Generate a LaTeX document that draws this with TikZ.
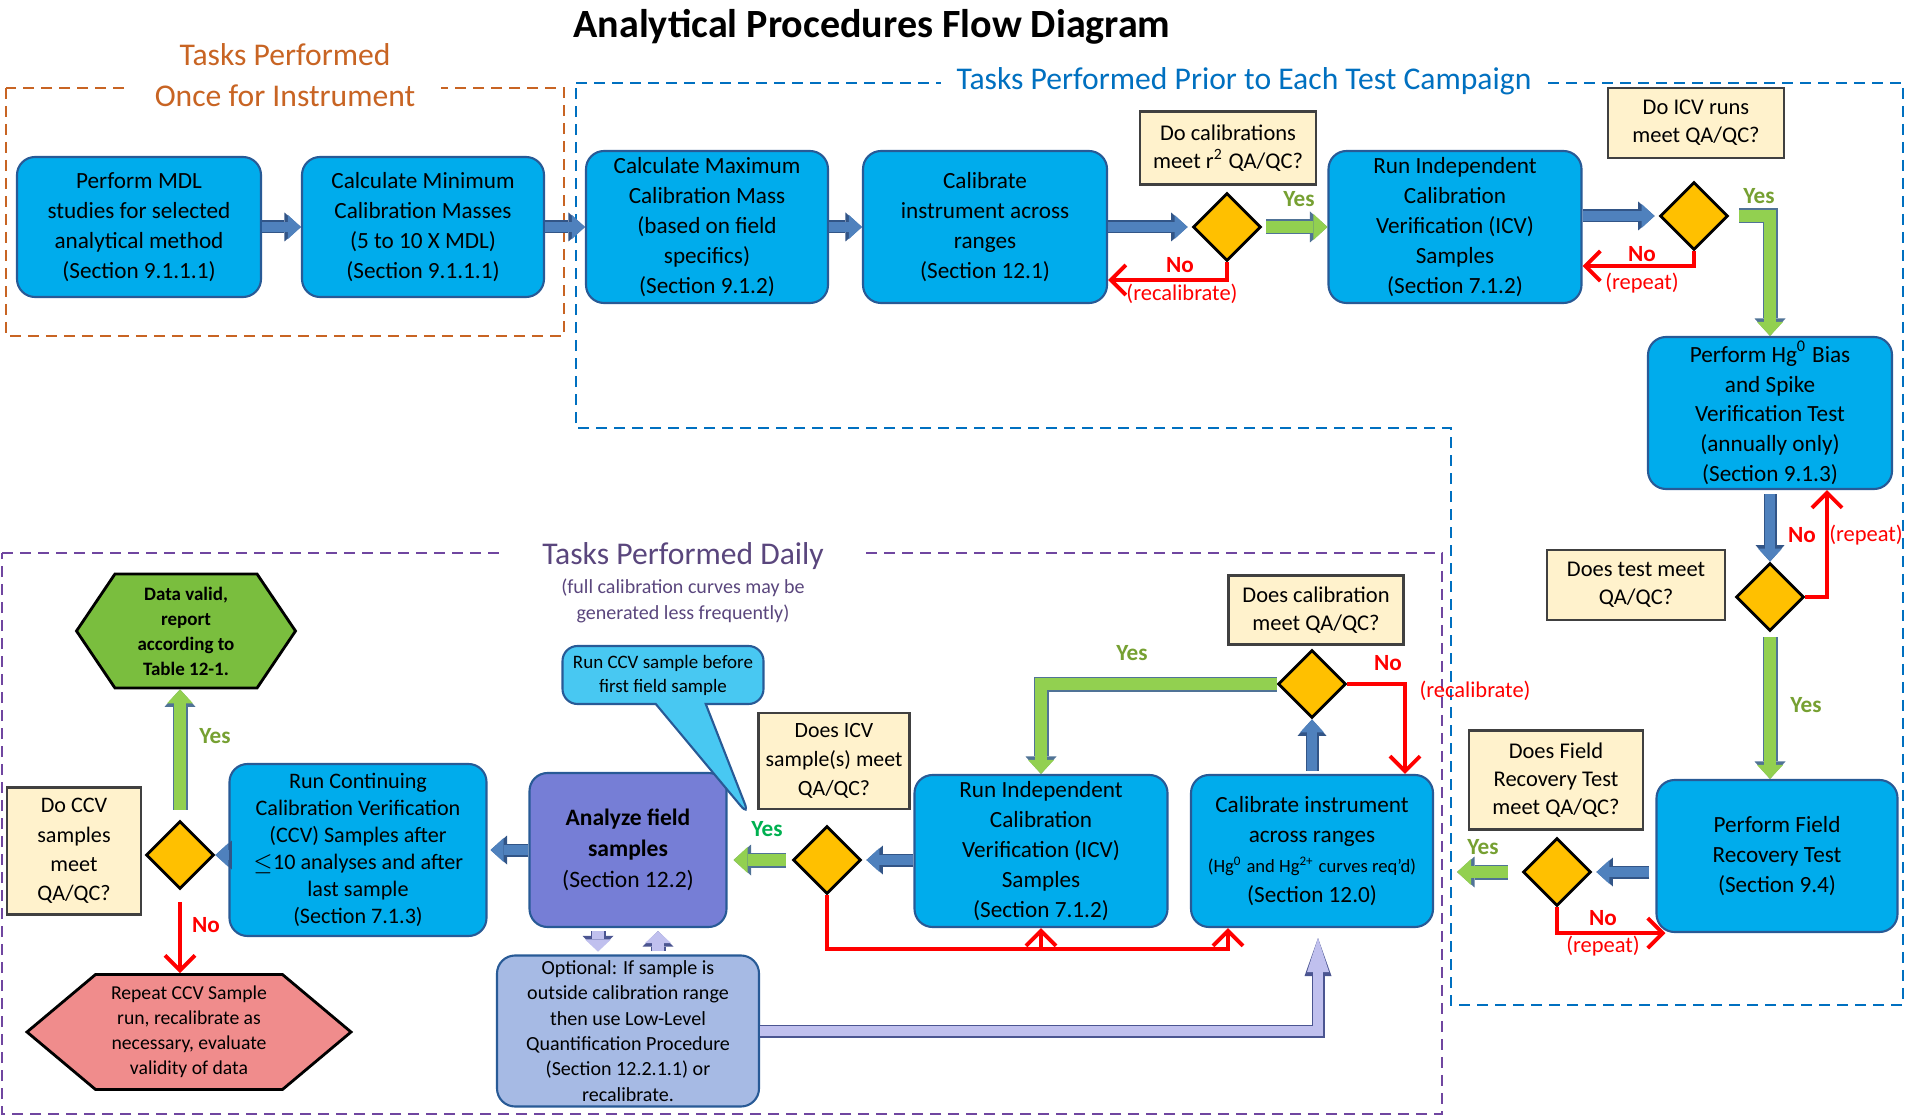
\documentclass[tikz,border=0pt]{standalone}
\usepackage{fontspec}
\setmainfont{Carlito}
\usetikzlibrary{shapes.geometric, shapes.symbols, shapes.callouts, arrows.meta}

\definecolor{boxblue}{RGB}{0,172,236}
\definecolor{boxedge}{RGB}{40,90,150}
\definecolor{qbeige}{RGB}{255,242,204}
\definecolor{diamondgold}{RGB}{255,192,0}
\definecolor{arrowblue}{RGB}{79,129,189}
\definecolor{arrowedge}{RGB}{50,85,135}
\definecolor{arrowgreen}{RGB}{146,208,80}
\definecolor{greenedge}{RGB}{80,115,150}
\definecolor{lavender}{RGB}{192,192,238}
\definecolor{lavedge}{RGB}{75,85,145}
\definecolor{analyzeblue}{RGB}{118,126,214}
\definecolor{optblue}{RGB}{166,186,228}
\definecolor{calloutblue}{RGB}{72,200,242}
\definecolor{validgreen}{RGB}{122,190,62}
\definecolor{repeatpink}{RGB}{240,140,140}
\definecolor{yesgreen}{RGB}{118,160,50}
\definecolor{brightgreen}{RGB}{0,176,80}
\definecolor{onceorange}{RGB}{200,100,35}
\definecolor{prioblue}{RGB}{0,112,192}
\definecolor{dailypurple}{RGB}{112,70,160}
\definecolor{dailytext}{RGB}{90,70,125}

\tikzstyle{procbox} = [rectangle, rounded corners=1.8mm, minimum width=24.4mm, minimum height=15.2mm, inner sep=0pt, align=center, fill=boxblue, draw=boxedge, line width=0.6pt, font=\fontsize{6.6}{8.5}\selectfont]
\tikzstyle{question} = [rectangle, minimum width=17.6mm, minimum height=7mm, inner sep=0pt, align=center, fill=qbeige, draw=black!75, line width=0.6pt, font=\fontsize{6.4}{7.9}\selectfont]
\tikzstyle{decision} = [diamond, minimum width=6.8mm, minimum height=6.8mm, inner sep=0pt, fill=diamondgold, draw=black, line width=0.8pt]
\tikzstyle{hexbox} = [signal, signal to=west and east, inner sep=0pt, align=center, draw=black, line width=0.8pt, font=\fontsize{5.6}{7.1}\selectfont]
\tikzstyle{dashframe} = [line width=0.7pt, dash pattern=on 1.1mm off 0.7mm]
\tikzstyle{framelabel} = [fill=white, inner ysep=0.5pt, font=\fontsize{9}{11}\selectfont]
\tikzstyle{bluearrow} = [draw=arrowblue, line width=1mm, -{Triangle[length=1.3mm, width=2.4mm, line width=0pt]}, preaction={draw=arrowedge, line width=1.3mm, -{Triangle[length=1.65mm, width=2.9mm, line width=0pt]}}]
\tikzstyle{greenarrow} = [draw=arrowgreen, line width=1.2mm, -{Triangle[length=1.4mm, width=2.6mm, line width=0pt]}, preaction={draw=greenedge, line width=1.5mm, -{Triangle[length=1.75mm, width=3.1mm, line width=0pt]}}]
\tikzstyle{lavarrow} = [draw=lavender, line width=1.2mm, -{Triangle[length=1.2mm, width=2.6mm, line width=0pt]}, preaction={draw=lavedge, line width=1.5mm, -{Triangle[length=1.55mm, width=3.1mm, line width=0pt]}}]
\tikzstyle{lavlong} = [draw=lavender, line width=1mm, -{Triangle[length=3.4mm, width=2.2mm, line width=0pt]}, preaction={draw=lavedge, line width=1.3mm, -{Triangle[length=3.8mm, width=2.7mm, line width=0pt]}}]
\tikzstyle{redarrow} = [draw=red, line width=1.1pt, -{Straight Barb[length=1.5mm, width=3mm]}]
\tikzstyle{yeslabel} = [text=yesgreen, font=\bfseries\fontsize{6.6}{8}\selectfont]
\tikzstyle{nolabel} = [text=red, font=\bfseries\fontsize{6.6}{8}\selectfont]
\tikzstyle{redo} = [text=red, font=\fontsize{6.4}{8}\selectfont]

\begin{document}
\begin{tikzpicture}[x=0.1mm, y=-0.1mm]
                 \useasboundingbox (0,0) rectangle (1907,1117);
                 \node [font=\bfseries\fontsize{11.4}{14}\selectfont] at (872,27) (title) {Analytical Procedures Flow Diagram};
                 % dashed frames
                 \draw [dashframe, draw=onceorange] (6,88) rectangle (564,336);
                 \draw [dashframe, draw=prioblue] (576,83) -- (1903,83) -- (1903,1005) -- (1451,1005) -- (1451,428) -- (576,428) -- cycle;
                 \draw [dashframe, draw=dailypurple] (2,553) -- (1442,553) -- (1442,1114) -- (2,1114) -- cycle;
                 \node [framelabel, text=onceorange, fill=none] at (285,55) (oncetop) {Tasks Performed};
                 \node [framelabel, text=onceorange, inner xsep=2.6mm] at (285,96) (oncebot) {Once for Instrument};
                 \node [framelabel, text=prioblue, inner xsep=1.6mm] at (1244,81) (priotitle) {Tasks Performed Prior to Each Test Campaign};
                 \node [framelabel, text=dailytext, inner xsep=3.6mm] at (683,556) (dailytitle) {Tasks Performed Daily};
                 \node [text=dailytext, align=center, font=\fontsize{5.7}{7.2}\selectfont] at (683,601) (dailynote) {(full calibration curves may be\\generated less frequently)};
                 % once for instrument
                 \node [procbox, minimum height=14mm] at (139,227) (mdl) {Perform MDL\\studies for selected\\analytical method\\(Section 9.1.1.1)};
                 \node [procbox, minimum width=24.2mm, minimum height=14mm] at (423,227) (minmass) {Calculate Minimum\\Calibration Masses\\(5 to 10 X MDL)\\(Section 9.1.1.1)};
                 % prior to each test campaign
                 \node [procbox, minimum width=24.2mm] at (707,227) (maxmass) {Calculate Maximum\\Calibration Mass\\(based on field\\specifics)\\(Section 9.1.2)};
                 \node [procbox] at (985,227) (calrange) {Calibrate\\instrument across\\ranges\\(Section 12.1)};
                 \node [question, minimum height=7.3mm] at (1228,148) (chkcal) {Do calibrations\\meet r\textsuperscript{2} QA/QC?};
                 \node [decision] at (1227,227) (dcal) {};
                 \node [procbox, minimum width=25.3mm] at (1455,227) (icvfirst) {Run Independent\\Calibration\\Verification (ICV)\\Samples\\(Section 7.1.2)};
                 \node [question] at (1696,123) (chkicv) {Do ICV runs\\meet QA/QC?};
                 \node [decision] at (1694,216) (dicv) {};
                 \node [procbox] at (1770,413) (hgbias) {Perform Hg\textsuperscript{0} Bias\\and Spike\\Verification Test\\(annually only)\\(Section 9.1.3)};
                 \node [question, minimum width=17.8mm] at (1636,585) (chktest) {Does test meet\\QA/QC?};
                 \node [decision] at (1770,597) (dtest) {};
                 \node [procbox, minimum width=24.1mm] at (1777,856) (fieldrec) {Perform Field\\Recovery Test\\(Section 9.4)};
                 \node [question, minimum width=17.4mm, minimum height=9.9mm] at (1556,780) (chkfield) {Does Field\\Recovery Test\\meet QA/QC?};
                 \node [decision] at (1557,872) (dfield) {};
                 % daily
                 \node [procbox, minimum width=24.2mm] at (1312,851) (caldaily) {Calibrate instrument\\across ranges\\{\fontsize{5.3}{7}\selectfont(Hg\textsuperscript{0} and Hg\textsuperscript{2+} curves req’d)}\\(Section 12.0)};
                 \node [question, minimum width=17.5mm, minimum height=6.9mm] at (1316,610) (chkcaldaily) {Does calibration\\meet QA/QC?};
                 \node [decision] at (1312,684) (dcaldaily) {};
                 \node [procbox, minimum width=25.3mm] at (1041,851) (icvdaily) {Run Independent\\Calibration\\Verification (ICV)\\Samples\\(Section 7.1.2)};
                 \node [question, minimum width=15.1mm, minimum height=9.6mm, font=\fontsize{6.2}{8.3}\selectfont] at (834,761) (chkicvdaily) {Does ICV\\sample(s) meet\\QA/QC?};
                 \node [decision] at (827,860) (dicvdaily) {};
                 \node [procbox, minimum width=19.7mm, minimum height=15.4mm, fill=analyzeblue, font=\fontsize{6.7}{8.9}\selectfont] at (628,850) (analyze) {\textbf{Analyze field}\\\textbf{samples}\\(Section 12.2)};
                 \node [rectangle callout, callout absolute pointer={(750,817)}, callout pointer width=5mm, rounded corners=1.5mm, fill=calloutblue, draw=boxedge, line width=0.6pt, minimum width=20.1mm, minimum height=5.8mm, inner sep=0pt, align=center, font=\fontsize{5.4}{6.8}\selectfont] at (663,675) (ccvnote) {Run CCV sample before\\first field sample};
                 \node [procbox, minimum width=26.2mm, minimum height=15.1mm, fill=optblue, font=\fontsize{5.7}{7.2}\selectfont] at (628,1031) (lowlevel) {Optional: If sample is\\outside calibration range\\then use Low-Level\\Quantification Procedure\\(Section 12.2.1.1) or\\recalibrate.};
                 \node [procbox, minimum width=25.7mm, minimum height=17.2mm, font=\fontsize{6.3}{7.7}\selectfont] at (358,850) (ccv) {Run Continuing\\Calibration Verification\\(CCV) Samples after\\$\le$10 analyses and after\\last sample\\(Section 7.1.3)};
                 \node [question, minimum width=13.4mm, minimum height=12.7mm, font=\fontsize{6.3}{8.3}\selectfont] at (74,851) (chkccv) {Do CCV\\samples\\meet\\QA/QC?};
                 \node [decision] at (180,855) (dccv) {};
                 \node [hexbox, fill=validgreen, minimum width=21.9mm, minimum height=11.4mm, signal pointer angle=112, font=\bfseries\fontsize{5.4}{7.1}\selectfont] at (186,631) (datavalid) {Data valid,\\report\\according to\\Table 12-1.};
                 \node [hexbox, fill=repeatpink, minimum width=32.4mm, minimum height=11.5mm, signal pointer angle=80] at (189,1032) (repeatccv) {Repeat CCV Sample\\run, recalibrate as\\necessary, evaluate\\validity of data};
                 % connectors, top row
                 \draw [bluearrow] (mdl) -- (minmass);
                 \draw [bluearrow] (minmass) -- (maxmass);
                 \draw [bluearrow] (maxmass) -- (calrange);
                 \draw [bluearrow, shorten >=0.4mm] (calrange) -- (dcal);
                 \draw [greenarrow, shorten <=0.4mm] (dcal) -- (icvfirst);
                 \node [yeslabel] at (1299,199) {Yes};
                 \draw [redarrow] (dcal.south) |- ([yshift=-5.3mm]calrange.east);
                 \node [nolabel] at (1180,265) {No};
                 \node [redo] at (1182,294) {(recalibrate)};
                 \draw [bluearrow, shorten >=0.4mm] (icvfirst.east |- dicv) -- (dicv);
                 \draw [redarrow] (dicv.south) |- ([yshift=-3.9mm]icvfirst.east);
                 \node [nolabel] at (1642,254) {No};
                 \node [redo] at (1642,283) {(repeat)};
                 \draw [greenarrow, shorten <=1mm] (dicv.east) -| (hgbias.north);
                 \node [yeslabel] at (1759,196) {Yes};
                 % right column
                 \draw [bluearrow, shorten <=0.4mm] (hgbias) -- (dtest);
                 \draw [redarrow] (dtest.east) -| ([xshift=5.7mm]hgbias.south);
                 \node [nolabel] at (1802,535) {No};
                 \node [redo] at (1866,535) {(repeat)};
                 \draw [greenarrow, shorten <=0.5mm] (dtest) -- (dtest |- fieldrec.north);
                 \node [yeslabel] at (1806,705) {Yes};
                 \draw [bluearrow, shorten <=0.6mm, shorten >=0.4mm] (fieldrec.west |- dfield) -- (dfield);
                 \draw [greenarrow, shorten <=1.4mm, shorten >=2.3mm] (dfield) -- (caldaily.east |- dfield);
                 \node [yeslabel] at (1483,847) {Yes};
                 \draw [redarrow] (dfield.south) |- ([xshift=1mm]fieldrec.south west);
                 \node [nolabel] at (1603,918) {No};
                 \node [redo] at (1603,946) {(repeat)};
                 % daily loop
                 \draw [bluearrow, shorten <=0.3mm] (caldaily) -- (dcaldaily);
                 \draw [redarrow] (dcaldaily.east) -| ([xshift=9.3mm]caldaily.north);
                 \node [nolabel] at (1388,663) {No};
                 \node [redo] at (1475,691) {(recalibrate)};
                 \draw [greenarrow] (dcaldaily.west) -| (icvdaily.north);
                 \node [yeslabel] at (1132,653) {Yes};
                 \draw [bluearrow, shorten >=0.4mm] (icvdaily.west |- dicvdaily) -- (dicvdaily);
                 \draw [greenarrow, shorten <=0.6mm, shorten >=0.6mm] (dicvdaily) -- (analyze.east |- dicvdaily);
                 \node [yeslabel, text=brightgreen] at (767,829) {Yes};
                 \coordinate (redbus) at (827,949);
                 \draw [redarrow] (dicvdaily.south) -- (redbus) -| ([xshift=-8.4mm]caldaily.south);
                 \draw [redarrow] (icvdaily.south |- redbus) -- (icvdaily.south);
                 \draw [bluearrow, shorten >=0.3mm] (analyze) -- (ccv);
                 \draw [bluearrow] (ccv.west |- dccv) -- (dccv);
                 \draw [greenarrow, shorten <=1mm] (dccv) -- (dccv |- datavalid.south);
                 \node [yeslabel] at (215,736) {Yes};
                 \draw [redarrow, shorten <=1.2mm] (dccv) -- (dccv |- repeatccv.north);
                 \node [nolabel] at (206,925) {No};
                 \draw [lavarrow, shorten <=0.3mm, shorten >=0.3mm] ([xshift=-3mm]analyze.south) -- ([xshift=-3mm]analyze.south |- lowlevel.north);
                 \draw [lavarrow, shorten <=0.3mm, shorten >=0.3mm] ([xshift=3mm]analyze.south |- lowlevel.north) -- ([xshift=3mm]analyze.south);
                 \draw [lavlong, shorten >=1mm] (lowlevel.east) -| ([xshift=0.6mm]caldaily.south);
\end{tikzpicture}
\end{document}
